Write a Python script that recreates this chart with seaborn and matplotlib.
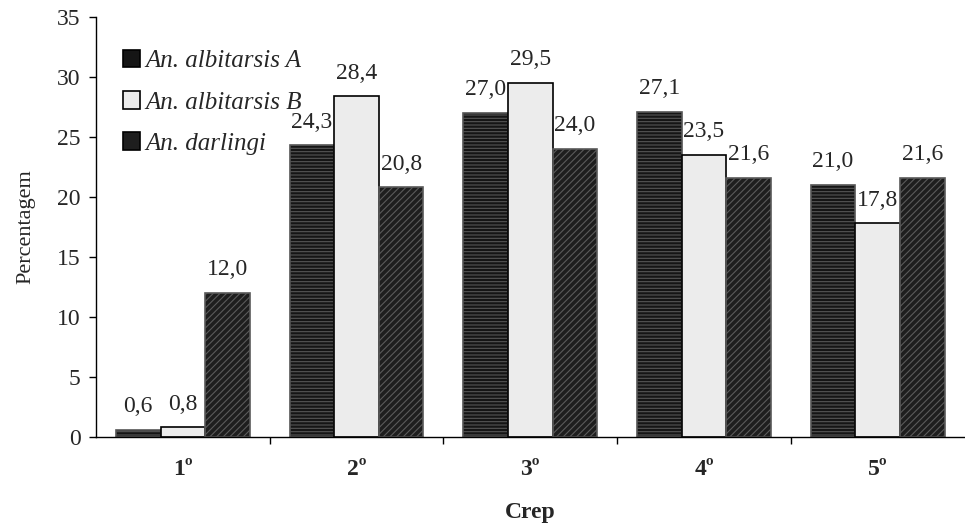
import numpy as np
import pandas as pd
import matplotlib.pyplot as plt
import seaborn as sns

# dados
crep = ['1º', '2º', '3º', '4º', '5º']
especies = ['An. albitarsis A', 'An. albitarsis B', 'An. darlingi']
albitarsis_a = [0.6, 24.3, 27.0, 27.1, 21.0]
albitarsis_b = [0.8, 28.4, 29.5, 23.5, 17.8]
darlingi = [12.0, 20.8, 24.0, 21.6, 21.6]

df = pd.DataFrame({
    'Crep': crep * 3,
    'Especie': [especies[0]] * 5 + [especies[1]] * 5 + [especies[2]] * 5,
    'Percentagem': albitarsis_a + albitarsis_b + darlingi,
})

sns.set_style('white')
plt.rcParams['font.family'] = ['Liberation Serif', 'DejaVu Serif']
plt.rcParams['hatch.linewidth'] = 0.8

fig = plt.figure(figsize=(9.65, 5.29), dpi=100)
ax = fig.add_axes([0.0995, 0.174, 0.9, 0.794])

cores = ['#151515', '#ececec', '#1e1e1e']
sns.barplot(data=df, x='Crep', y='Percentagem', hue='Especie',
            palette=cores, width=0.77, gap=0, edgecolor='black',
            linewidth=1.2, ax=ax)

hachuras = ['-----', '', '/////']
hcores = ['#555555', 'black', '#5a5a5a']
for cont, h, hc in zip(ax.containers, hachuras, hcores):
    for barra in cont:
        barra.set_hatch(h)
        if h:
            barra.set_edgecolor(hc)
    ax.bar_label(cont, labels=[f'{v:.1f}'.replace('.', ',') for v in cont.datavalues],
                 padding=9, fontsize=17)

ax.set_xlim(-0.5, 4.5)
ax.set_ylim(0, 35)
ax.set_yticks(range(0, 36, 5))
ax.set_xticks(range(5))
ax.set_xticklabels(crep, fontsize=17, fontweight='bold')
ax.set_xticks(np.arange(0.5, 4.5, 1), minor=True)
ax.tick_params(axis='x', which='major', bottom=True, length=0, pad=16)
ax.tick_params(axis='x', which='minor', bottom=True, length=5, width=1,
               direction='out', color='black')
ax.tick_params(axis='y', left=True, length=5, width=1, direction='out',
               color='black', labelsize=17, pad=6)

ax.set_xlabel('Crep', fontsize=17, fontweight='bold', labelpad=16)
ax.set_ylabel('Percentagem', fontsize=16, labelpad=16)

sns.despine(ax=ax)
for s in ['left', 'bottom']:
    ax.spines[s].set_color('black')
    ax.spines[s].set_linewidth(1)

leg = ax.legend(loc='upper left', bbox_to_anchor=(0.005, 0.975), frameon=False,
                prop={'style': 'italic', 'size': 18, 'family': 'Liberation Serif'},
                handlelength=0.7, handleheight=0.7, handletextpad=0.2,
                labelspacing=0.75)
for h in leg.legend_handles:
    h.set_edgecolor('black')

fig.savefig('out.png', dpi=100)
